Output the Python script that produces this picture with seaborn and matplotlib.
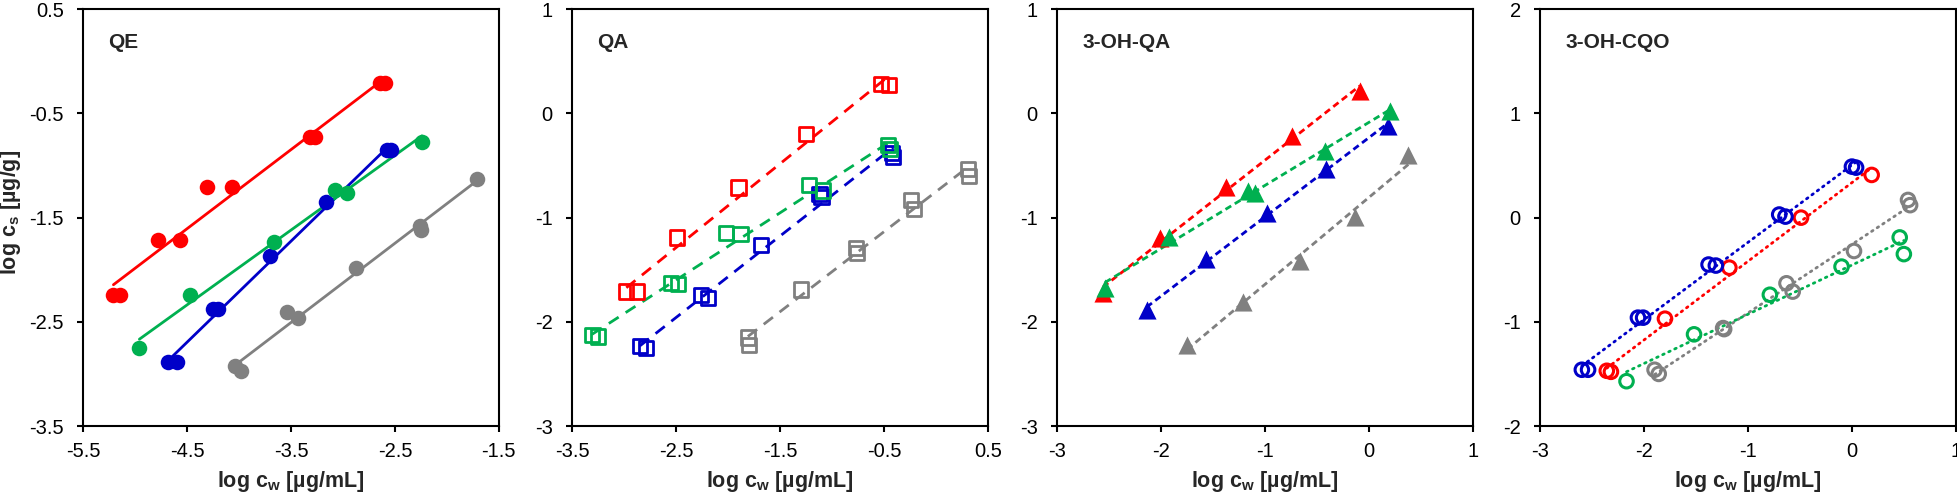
import numpy as np
import matplotlib
matplotlib.use("Agg")
import matplotlib.pyplot as plt
import seaborn as sns

# ---------------- data ----------------
# QE (filled circles, solid lines)
qe_red_x = [-5.21, -5.15, -4.78, -4.57, -4.31, -4.07, -3.32, -3.27, -2.64, -2.60]
qe_red_y = [-2.24, -2.24, -1.71, -1.71, -1.21, -1.21, -0.73, -0.73, -0.21, -0.21]
qe_blue_x = [-4.68, -4.60, -4.25, -4.20, -3.70, -3.16, -2.58, -2.54]
qe_blue_y = [-2.89, -2.89, -2.38, -2.38, -1.87, -1.35, -0.85, -0.85]
qe_green_x = [-4.96, -4.47, -3.66, -3.08, -2.96, -2.24]
qe_green_y = [-2.75, -2.24, -1.73, -1.23, -1.26, -0.77]
qe_gray_x = [-4.04, -3.98, -3.54, -3.43, -2.87, -2.26, -2.25, -1.71]
qe_gray_y = [-2.92, -2.97, -2.41, -2.46, -1.98, -1.58, -1.62, -1.13]

# QA (open squares, dashed lines)
qa_red_x = [-2.98, -2.88, -2.49, -1.90, -1.25, -0.53, -0.45]
qa_red_y = [-1.71, -1.71, -1.19, -0.71, -0.20, 0.28, 0.27]
qa_green_x = [-3.31, -3.25, -2.55, -2.48, -2.02, -1.88, -1.22, -1.09, -0.46, -0.44]
qa_green_y = [-2.13, -2.14, -1.63, -1.64, -1.15, -1.16, -0.69, -0.74, -0.30, -0.34]
qa_blue_x = [-2.85, -2.79, -2.26, -2.19, -1.68, -1.12, -1.10, -0.42, -0.41]
qa_blue_y = [-2.23, -2.25, -1.74, -1.77, -1.26, -0.77, -0.80, -0.38, -0.42]
qa_gray_x = [-1.81, -1.80, -1.30, -0.77, -0.76, -0.24, -0.21, 0.31, 0.32]
qa_gray_y = [-2.15, -2.22, -1.69, -1.29, -1.34, -0.83, -0.92, -0.53, -0.60]

# 3-OH-QA (filled triangles, short dashed lines)
oh_red_x = [-2.56, -2.01, -1.38, -0.74, -0.09]
oh_red_y = [-1.72, -1.20, -0.71, -0.22, 0.22]
oh_green_x = [-2.54, -1.92, -1.16, -1.10, -0.42, 0.20]
oh_green_y = [-1.68, -1.19, -0.74, -0.76, -0.36, 0.02]
oh_blue_x = [-2.14, -1.57, -0.98, -0.41, 0.18]
oh_blue_y = [-1.89, -1.40, -0.96, -0.53, -0.12]
oh_gray_x = [-1.75, -1.21, -0.66, -0.13, 0.38]
oh_gray_y = [-2.22, -1.81, -1.42, -0.99, -0.40]

# 3-OH-CQO (open circles, dotted lines)
cqo_blue_x = [-2.60, -2.54, -2.06, -2.01, -1.38, -1.31, -0.70, -0.64, 0.00, 0.04]
cqo_blue_y = [-1.46, -1.46, -0.96, -0.96, -0.45, -0.46, 0.03, 0.01, 0.49, 0.48]
cqo_red_x = [-2.36, -2.32, -1.80, -1.18, -0.49, 0.19]
cqo_red_y = [-1.47, -1.48, -0.97, -0.48, 0.00, 0.41]
cqo_gray_x = [-1.90, -1.86, -1.24, -1.23, -0.63, -0.57, 0.02, 0.54, 0.56]
cqo_gray_y = [-1.46, -1.50, -1.06, -1.07, -0.63, -0.71, -0.32, 0.17, 0.12]
cqo_green_x = [-2.17, -1.52, -0.79, -0.10, 0.46, 0.50]
cqo_green_y = [-1.57, -1.12, -0.74, -0.47, -0.19, -0.35]

titles = ["QE", "QA", "3-OH-QA", "3-OH-CQO"]
xticks_list = [[-5.5, -4.5, -3.5, -2.5, -1.5],
               [-3.5, -2.5, -1.5, -0.5, 0.5],
               [-3, -2, -1, 0, 1],
               [-3, -2, -1, 0, 1]]
yticks_list = [[-3.5, -2.5, -1.5, -0.5, 0.5],
               [-3, -2, -1, 0, 1],
               [-3, -2, -1, 0, 1],
               [-2, -1, 0, 1, 2]]

RED, BLUE, GREEN, GRAY = "#FF0000", "#0000C8", "#00B050", "#808080"

panels = [
    [(qe_gray_x, qe_gray_y, GRAY), (qe_blue_x, qe_blue_y, BLUE),
     (qe_green_x, qe_green_y, GREEN), (qe_red_x, qe_red_y, RED)],
    [(qa_gray_x, qa_gray_y, GRAY), (qa_blue_x, qa_blue_y, BLUE),
     (qa_green_x, qa_green_y, GREEN), (qa_red_x, qa_red_y, RED)],
    [(oh_gray_x, oh_gray_y, GRAY), (oh_blue_x, oh_blue_y, BLUE),
     (oh_red_x, oh_red_y, RED), (oh_green_x, oh_green_y, GREEN)],
    [(cqo_gray_x, cqo_gray_y, GRAY), (cqo_green_x, cqo_green_y, GREEN),
     (cqo_red_x, cqo_red_y, RED), (cqo_blue_x, cqo_blue_y, BLUE)],
]

# ---------------- style ----------------
sns.set_style("ticks")
plt.rcParams["font.family"] = ["Liberation Sans", "DejaVu Sans"]
plt.rcParams["axes.unicode_minus"] = False
plt.rcParams["mathtext.fontset"] = "custom"
plt.rcParams["mathtext.rm"] = "Liberation Sans"
plt.rcParams["mathtext.bf"] = "Liberation Sans:bold"

fig = plt.figure(figsize=(19.58, 4.98), dpi=100)
lefts = [83.3, 572.3, 1057.3, 1540.3]
W, H = 1958.0, 498.0
axw = 415.5 / W
axb = (H - 426.0) / H
axh = (426.0 - 9.3) / H

line_styles = [
    dict(ls="-"),
    dict(ls="--", dashes=(4.2, 3.0)),
    dict(ls="--", dashes=(2.4, 1.5)),
    dict(ls=":", dashes=(0.6, 1.8), dash_capstyle="round"),
]

for i in range(4):
    ax = fig.add_axes([lefts[i] / W, axb, axw, axh])
    for xs, ys, c in panels[i]:
        sns.regplot(x=np.array(xs), y=np.array(ys), ax=ax, scatter=False, ci=None,
                    color=c, truncate=True,
                    line_kws=dict(lw=2.0, **line_styles[i]))
    for xs, ys, c in panels[i]:
        if i == 0:
            sns.scatterplot(x=xs, y=ys, ax=ax, color=c, marker="o", s=125,
                            edgecolor=c, linewidth=0, zorder=3)
        elif i == 1:
            sns.scatterplot(x=xs, y=ys, ax=ax, marker="s", s=105,
                            facecolor="none", edgecolor=c, linewidth=2.0, zorder=3)
        elif i == 2:
            sns.scatterplot(x=xs, y=ys, ax=ax, color=c, marker="^", s=170,
                            edgecolor=c, linewidth=0, zorder=3)
        else:
            sns.scatterplot(x=xs, y=ys, ax=ax, marker="o", s=95,
                            facecolor="none", edgecolor=c, linewidth=2.2, zorder=3)

    xt, yt = xticks_list[i], yticks_list[i]
    ax.set_xlim(xt[0], xt[-1])
    ax.set_ylim(yt[0], yt[-1])
    ax.set_xticks(xt)
    ax.set_yticks(yt)
    ax.set_xticklabels([f"{v:g}" for v in xt])
    ax.set_yticklabels([f"{v:g}" for v in yt])
    for s in ax.spines.values():
        s.set_visible(True)
        s.set_linewidth(1.5)
        s.set_color("black")
    ax.tick_params(axis="both", direction="out", length=4, width=1.5,
                   labelsize=14.5, colors="black")
    ax.tick_params(axis="x", pad=7.5)
    ax.tick_params(axis="y", pad=10)
    ax.set_xlabel(r"log c$_\mathbf{w}$ [µg/mL]", fontsize=15.5, fontweight="bold",
                  labelpad=6)
    ax.set_ylabel("")
    ax.text(0.060, 0.908, titles[i], transform=ax.transAxes, fontsize=15,
            fontweight="bold", ha="left", va="baseline")
    ax.grid(False)

fig.text(11 / W, 1 - 212.0 / H, r"log c$_\mathbf{s}$ [µg/g]", rotation=90,
         fontsize=15.5, fontweight="bold", ha="center", va="center")

fig.savefig("out.png", dpi=100)
